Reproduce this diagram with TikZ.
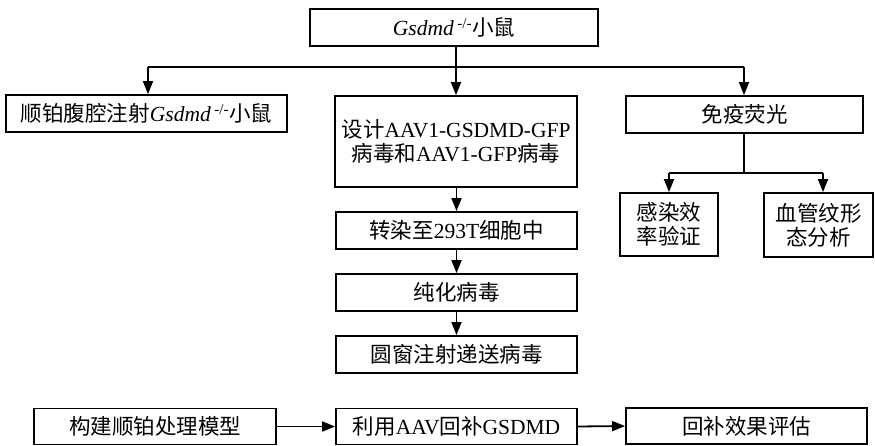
\documentclass[tikz,border=0pt]{standalone}
\usepackage{fontspec}
\setmainfont{Liberation Serif}
\newfontfamily\cjk{Noto Sans CJK SC}
\usetikzlibrary{arrows.meta}
\newcommand{\zh}[1]{{\cjk #1}}
\newcommand{\ko}{\textit{Gsdmd}\,\textsuperscript{-/-}}
\tikzset{
  box/.style={draw, line width=1.8pt, rectangle, inner sep=0pt, align=center,
    font=\fontsize{21.5}{24}\selectfont},
  conn/.style={line width=1.8pt},
  arr/.style={line width=1.8pt, -{Triangle[length=13pt,width=10pt]}}
}
\begin{document}
\begin{tikzpicture}[x=1pt,y=-1pt]
\useasboundingbox (0,0) rectangle (875,446);
% top
\node[box, minimum width=288pt, minimum height=37pt] (top) at (454,27.5) {\ko\zh{小鼠}};
\node[box, minimum width=281pt, minimum height=37pt] (left) at (146.5,113.5) {\zh{顺铂腹腔注射}\ko\zh{小鼠}};
\node[box, minimum width=242pt, minimum height=91pt] (aav) at (456,141.5) {\zh{设计}AAV1-GSDMD-GFP\\\zh{病毒和}AAV1-GFP\zh{病毒}};
\node[box, minimum width=237pt, minimum height=37pt] (if) at (744.5,114.5) {\zh{免疫荧光}};
\node[box, minimum width=98pt, minimum height=63pt] (gr) at (669,224.5) {\zh{感染效}\\\zh{率验证}};
\node[box, minimum width=109pt, minimum height=64pt] (xg) at (818.5,225) {\zh{血管纹形}\\\zh{态分析}};
\node[box, minimum width=241pt, minimum height=37pt] (zr) at (456.5,230.5) {\zh{转染至}293T\zh{细胞中}};
\node[box, minimum width=241pt, minimum height=37pt] (ch) at (456.5,292.5) {\zh{纯化病毒}};
\node[box, minimum width=241pt, minimum height=37pt] (yc) at (456.5,354.5) {\zh{圆窗注射递送病毒}};
% bottom row
\node[box, minimum width=242pt, minimum height=36pt] (b1) at (155,426.5) {\zh{构建顺铂处理模型}};
\node[box, minimum width=241pt, minimum height=36pt] (b2) at (456.5,426.5) {\zh{利用}AAV\zh{回补}GSDMD};
\node[box, minimum width=241pt, minimum height=36pt] (b3) at (746.5,426) {\zh{回补效果评估}};
% connectors
\coordinate (hl) at (148,67);
\coordinate (hr) at (744,67);
\draw[conn] (hl) -- (hr);
\draw[arr] (top.south -| aav.north) -- (aav.north);
\draw[arr] (hl) -- (hl |- left.north);
\draw[arr] (hr) -- (hr |- if.north);
\coordinate (s1) at (669,173);
\coordinate (s2) at (823,173);
\draw[conn] (if.south -| hr) -- (hr |- s1);
\draw[conn] (s1) -- (s2);
\draw[arr] (s1) -- (gr.north);
\draw[arr] (s2) -- (s2 |- xg.north);
\draw[arr] (aav.south -| zr.north) -- (zr.north);
\draw[arr] (zr.south) -- (ch.north);
\draw[arr] (ch.south) -- (yc.north);
\draw[arr] (b1.east) -- (b2.west);
\draw[arr] (b2.east) -- (b3.west);
\end{tikzpicture}
\end{document}
